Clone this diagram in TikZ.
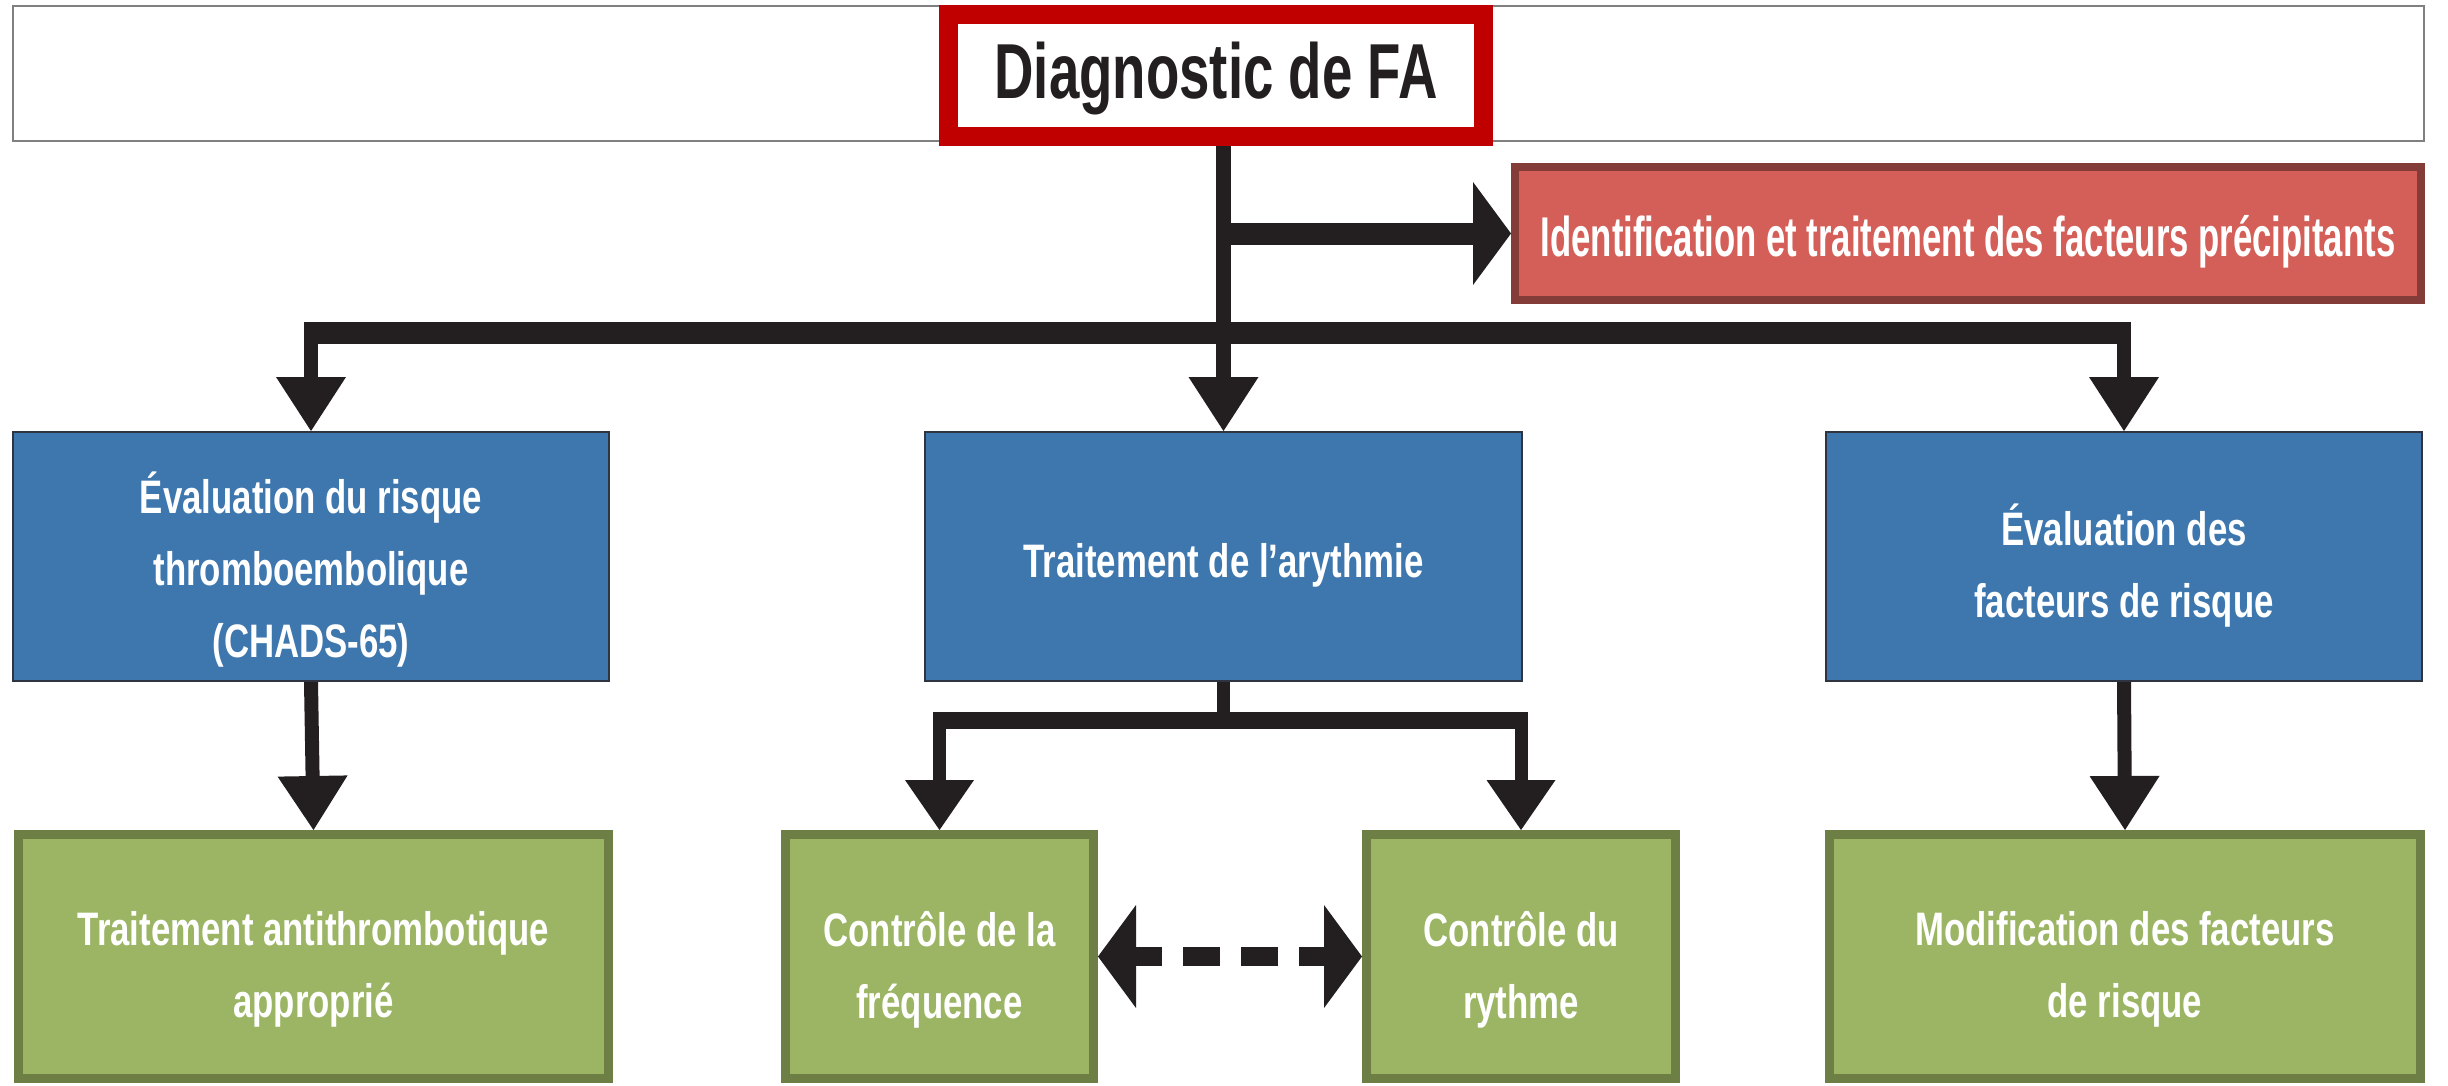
\documentclass[tikz,border=0pt]{standalone}
\usepackage{fontspec}
\setmainfont{Liberation Sans}
\newfontfamily\boxfont{Liberation Sans}[FakeStretch=0.74]
\newfontfamily\diagfont{Liberation Sans}[FakeStretch=0.70]
\newfontfamily\redfont{Liberation Sans}[FakeStretch=0.62]
\usetikzlibrary{arrows.meta}
\definecolor{bluefill}{HTML}{3E77AE}
\definecolor{blueline}{HTML}{2E3440}
\definecolor{greenfill}{HTML}{9BB565}
\definecolor{greenline}{HTML}{6E7F46}
\definecolor{redfill}{HTML}{D45F58}
\definecolor{redline}{HTML}{843C39}
\definecolor{diagred}{HTML}{C00000}
\definecolor{arrowc}{HTML}{231F20}
\definecolor{bannerline}{HTML}{808080}
\begin{document}
\begin{tikzpicture}[x=1pt,y=-1pt,
  boxtext/.style={text=white, inner sep=0pt, align=center,
    font=\boxfont\bfseries\fontsize{47}{72}\selectfont},
  bluebox/.style={draw=blueline, line width=2pt, fill=bluefill,
    minimum height=249pt, inner sep=0pt},
  greenbox/.style={draw=greenline, line width=9pt, fill=greenfill,
    minimum height=244pt, inner sep=0pt},
  varrow/.style={draw=arrowc, line width=14pt,
    -{Triangle[length=54pt,width=70pt,line width=0pt]}},
  sarrow/.style={draw=arrowc, line width=13pt,
    -{Triangle[length=50pt,width=69pt,line width=0pt]}},
  harrow/.style={draw=arrowc, line width=22pt,
    -{Triangle[length=38pt,width=103pt,line width=0pt]}},
  trunkline/.style={draw=arrowc, line width=22pt},
  subline/.style={draw=arrowc, line width=17pt},
  stemline/.style={draw=arrowc, line width=13pt},
  darrow/.style={draw=arrowc, line width=19pt, dash pattern=on 37pt off 21pt, dash phase=11pt,
    {Triangle[length=38pt,width=103pt,line width=0pt]}-{Triangle[length=38pt,width=103pt,line width=0pt]}}
]
\useasboundingbox (0,0) rectangle (2448,1085);
\fill[white] (0,0) rectangle (2448,1085);

% banner and top box
\node[draw=bannerline, line width=2pt, fill=white, minimum width=2411pt, minimum height=135pt, inner sep=0pt] (banner) at (1218.5,73.5) {};
\node[draw=diagred, line width=19pt, fill=white, minimum width=535pt, minimum height=122pt, inner sep=0pt,
  label={[text=arrowc, inner sep=0pt, yshift=-3pt, font=\diagfont\bfseries\fontsize{78}{90}\selectfont]center:Diagnostic de FA}] (diag) at (1216,75.5) {};

% red box
\node[draw=redline, line width=8pt, fill=redfill, minimum width=906pt, minimum height=133pt, inner sep=0pt,
  label={[text=white, inner sep=0pt, yshift=-8pt, font=\redfont\bfseries\fontsize{56}{66}\selectfont]center:Identification et traitement des facteurs précipitants}] (red) at (1968,233.5) {};

% blue boxes
\node[bluebox, minimum width=596pt, label={[boxtext, yshift=-13pt]center:{Évaluation du risque\\thromboembolique\\(CHADS-65)}}] (b1) at (311,556.5) {};
\node[bluebox, minimum width=597pt, label={[boxtext, yshift=-9pt]center:{Traitement de l’arythmie}}] (b2) at (1223.5,556.5) {};
\node[bluebox, minimum width=596pt, label={[boxtext, yshift=-9pt]center:{Évaluation des\\facteurs de risque}}] (b3) at (2124,556.5) {};

% green boxes
\node[greenbox, minimum width=590pt, label={[boxtext, yshift=-13pt]center:{Traitement antithrombotique\\approprié}}] (g1) at (313.5,956.5) {};
\node[greenbox, minimum width=308pt, label={[boxtext, yshift=-13pt]center:{Contrôle de la\\fréquence}}] (g2) at (939.5,956.5) {};
\node[greenbox, minimum width=309pt, label={[boxtext, yshift=-13pt]center:{Contrôle du\\rythme}}] (g3) at (1521,956.5) {};
\node[greenbox, minimum width=591pt, label={[boxtext, yshift=-13pt]center:{Modification des facteurs\\de risque}}] (g4) at (2125,956.5) {};

% helper coordinates
\coordinate (trunk) at (1223,333);
\coordinate (trunktop) at (1223,322);
\coordinate (sub) at (1223,720);
\coordinate (subtop) at (1223,712);

% connectors
\draw[varrow, line width=15pt] (b2.north |- diag.south) -- (b2.north);
\draw[harrow] (b2.north |- red.west) -- (red.west);
\draw[trunkline] ([xshift=-7pt]b1.north |- trunk) -- ([xshift=7pt]b3.north |- trunk);
\draw[varrow] (b1.north |- trunktop) -- (b1.north);
\draw[varrow] (b3.north |- trunktop) -- (b3.north);
\draw[varrow] (b1.south) -- (g1.north);
\draw[varrow] (b3.south) -- (g4.north);
\draw[stemline] (b2.south) -- (b2.south |- sub);
\draw[subline] ([xshift=-6.5pt]g2.north |- sub) -- ([xshift=6.5pt]g3.north |- sub);
\draw[sarrow] (g2.north |- subtop) -- (g2.north);
\draw[sarrow] (g3.north |- subtop) -- (g3.north);
\draw[darrow] (g2.east) -- (g3.west);
\end{tikzpicture}
\end{document}
